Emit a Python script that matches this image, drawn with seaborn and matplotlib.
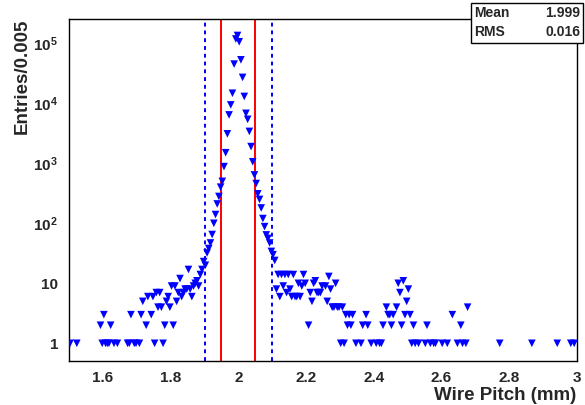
import matplotlib
matplotlib.use("Agg")
import matplotlib.pyplot as plt
from matplotlib.patches import Rectangle
from matplotlib.ticker import FixedLocator, NullFormatter, FixedFormatter, LogLocator
import seaborn as sns
import pandas as pd
import numpy as np

# ---- data (bin centre, entries) ----
left_x = [1.5025, 1.5225, 1.5925, 1.5975, 1.6025, 1.6075, 1.6125, 1.6175, 1.6225, 1.6325,
          1.6425, 1.6725, 1.6775, 1.6825, 1.6925, 1.6975, 1.7075, 1.7125, 1.7175, 1.7275,
          1.7325, 1.7425, 1.7475, 1.7525, 1.7575, 1.7625, 1.7675, 1.7725, 1.7775, 1.7825,
          1.7875, 1.7925, 1.7975, 1.8025, 1.8075, 1.8125, 1.8175, 1.8225, 1.8275, 1.8325,
          1.8375, 1.8425, 1.8475, 1.8525, 1.8575, 1.8625, 1.8675, 1.8725, 1.8775, 1.8825]
left_n = [1, 1, 2, 1, 3, 1, 1, 1, 2, 1,
          1, 1, 1, 3, 1, 1, 1, 3, 5, 2,
          6, 3, 6, 1, 7, 4, 7, 4, 1, 2,
          5, 6, 4, 9, 2, 9, 5, 7, 12, 6,
          7, 8, 8, 17, 8, 6, 9, 10, 11, 9]

core_x = [1.8875, 1.8925, 1.8975, 1.9025, 1.9075, 1.9125, 1.9175, 1.9225, 1.9275, 1.9325,
          1.9375, 1.9425, 1.9475, 1.9525, 1.9575, 1.9625, 1.9675, 1.9725, 1.9775, 1.9825,
          1.9875, 1.9925, 1.9975, 2.0025, 2.0075, 2.0125, 2.0175, 2.0225, 2.0275, 2.0325,
          2.0375, 2.0425, 2.0475, 2.0525, 2.0575, 2.0625, 2.0675, 2.0725, 2.0775, 2.0825,
          2.0875, 2.0925, 2.0975, 2.1025, 2.1075]
core_n = [14, 17, 23, 20, 32, 38, 47, 65, 100, 140,
          210, 280, 400, 500, 880, 1500, 3100, 6400, 9400, 14700,
          45000, 118000, 135000, 106000, 53000, 27000, 13000, 6800, 5400, 3400,
          1900, 1060, 640, 460, 310, 250, 180, 120, 88, 64,
          56, 47, 34, 30, 24]

right_x = [2.1125, 2.1175, 2.1225, 2.1275, 2.1325, 2.1375, 2.1425, 2.1475, 2.1525, 2.1575,
           2.1625, 2.1675, 2.1725, 2.1775, 2.1825, 2.1875, 2.1925, 2.1975, 2.2075, 2.2125,
           2.2175, 2.2225, 2.2275, 2.2325, 2.2375, 2.2425, 2.2475, 2.2575, 2.2625, 2.2675,
           2.2725, 2.2775, 2.2825, 2.2875, 2.2925, 2.2975, 2.3025, 2.3075, 2.3125, 2.3175,
           2.3225, 2.3275, 2.3325, 2.3375, 2.3475, 2.3625, 2.3675, 2.3775, 2.3825, 2.3925,
           2.4075, 2.4175, 2.4225, 2.4275, 2.4375, 2.4425, 2.4475, 2.4525, 2.4575, 2.4675,
           2.4725, 2.4775, 2.4825, 2.4875, 2.4925, 2.4975, 2.5025, 2.5075, 2.5125, 2.5175,
           2.5225, 2.5325, 2.5525, 2.5575, 2.5675, 2.5775, 2.5825, 2.6025, 2.6175, 2.6325,
           2.6475, 2.6575, 2.6625, 2.6725, 2.6775, 2.7725, 2.8675, 2.9425, 2.9825, 2.9925]
right_n = [8, 14, 6, 14, 9, 14, 7, 14, 8, 6,
           14, 6, 6, 10, 6, 9, 14, 10, 2, 7,
           5, 10, 11, 7, 7, 7, 9, 9, 5, 13,
           8, 4, 4, 10, 4, 4, 1, 4, 1, 3,
           2, 3, 2, 3, 1, 1, 2, 3, 2, 1,
           1, 1, 1, 2, 4, 3, 3, 2, 3, 4,
           10, 7, 2, 11, 3, 5, 8, 3, 1, 2,
           1, 1, 1, 2, 1, 1, 1, 1, 1, 3,
           1, 2, 1, 1, 4, 1, 1, 1, 1, 1]

signal_lines = [1.95, 2.05]
window_lines = [1.90, 2.10]
x_ticks = [1.6, 1.8, 2.0, 2.2, 2.4, 2.6, 2.8, 3.0]
x_tick_labels = ["1.6", "1.8", "2", "2.2", "2.4", "2.6", "2.8", "3"]
y_ticks = [1, 10, 100, 1000, 10000, 100000]
y_tick_labels = ["1", "10", r"$\mathbf{10^{2}}$", r"$\mathbf{10^{3}}$",
                 r"$\mathbf{10^{4}}$", r"$\mathbf{10^{5}}$"]
stats_names = ["Mean", "RMS"]
stats_values = ["1.999", "0.016"]

df = pd.DataFrame({"x": left_x + core_x + right_x,
                   "n": left_n + core_n + right_n})

sns.set_style("white")
plt.rcParams["font.family"] = ["Liberation Sans", "DejaVu Sans"]
plt.rcParams["mathtext.fontset"] = "custom"
plt.rcParams["mathtext.rm"] = "Liberation Sans"
plt.rcParams["mathtext.bf"] = "Liberation Sans:bold"

W, H = 585, 405
fig = plt.figure(figsize=(W / 100, H / 100), dpi=100)
L, R, T, B = 69.2, 576.7, 19, 361
ax = fig.add_axes([L / W, 1 - B / H, (R - L) / W, (B - T) / H])

sns.scatterplot(data=df, x="x", y="n", ax=ax, marker="v", s=30,
                color="#0000ff", edgecolor="none", linewidth=0, legend=False, zorder=3)

ax.set_yscale("log")
ax.set_xlim(1.5, 3.0)
ax.set_ylim(0.507, 2.54e5)

for xv in signal_lines:
    ax.axvline(xv, color="#ff0000", lw=1.4, zorder=2)
for xv in window_lines:
    ax.axvline(xv, color="#0000ff", lw=1.4, ls=(0, (2, 2)), zorder=2)

# ticks
ax.xaxis.set_major_locator(FixedLocator(x_ticks))
ax.xaxis.set_major_formatter(FixedFormatter(x_tick_labels))
ax.xaxis.set_minor_locator(FixedLocator(np.arange(1.5, 3.001, 0.05)))
ax.yaxis.set_major_locator(FixedLocator(y_ticks))
ax.yaxis.set_major_formatter(FixedFormatter(y_tick_labels))
ax.yaxis.set_minor_locator(LogLocator(base=10, subs=np.arange(2, 10), numticks=20))
ax.yaxis.set_minor_formatter(NullFormatter())
ax.tick_params(axis="both", which="both", direction="in", top=False, right=False,
               color="black", width=1)
ax.tick_params(axis="x", which="major", length=9, pad=7, labelsize=11)
ax.tick_params(axis="x", which="minor", length=4.5)
ax.tick_params(axis="y", which="major", length=12, pad=8, labelsize=11)
ax.tick_params(axis="y", which="minor", length=6)
for lab in ax.get_xticklabels() + ax.get_yticklabels():
    lab.set_fontweight("bold")

for sp in ax.spines.values():
    sp.set_color("black")
    sp.set_linewidth(1.0)

ax.set_xlabel("")
ax.set_ylabel("")
ax.text(1.0, -0.1, "Wire Pitch (mm)", transform=ax.transAxes, ha="right", va="center",
        fontsize=13.5, fontweight="bold")
ax.text(-0.093, 1.0, "Entries/0.005", transform=ax.transAxes, ha="center", va="top",
        rotation=90, fontsize=13.5, fontweight="bold")

# stats box
bx0, by0, bx1, by1 = 471, 3, 583, 43
fig.patches.append(Rectangle((bx0 / W, 1 - by1 / H), (bx1 - bx0) / W, (by1 - by0) / H,
                             transform=fig.transFigure, facecolor="white",
                             edgecolor="black", lw=1, zorder=10))
for i, (nm, vl) in enumerate(zip(stats_names, stats_values)):
    yy = 1 - (13 + 19 * i) / H
    fig.text(474 / W, yy, nm, ha="left", va="center", fontsize=10, fontweight="bold", zorder=11)
    fig.text(580 / W, yy, vl, ha="right", va="center", fontsize=10, fontweight="bold", zorder=11)

fig.savefig("out.png", dpi=100)
